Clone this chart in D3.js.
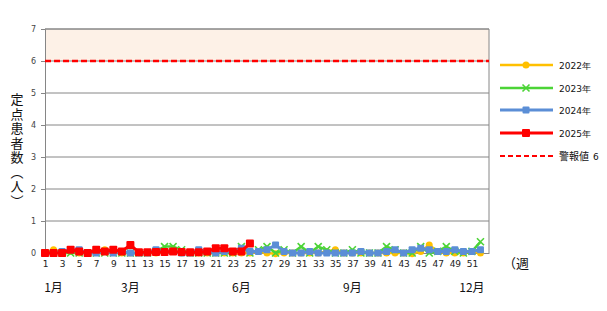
<!DOCTYPE html>
<html><head><meta charset="utf-8">
<script src="https://cdn.jsdelivr.net/npm/d3@7"></script>
<style>body{margin:0;background:#fff}svg{display:block;font-family:"Noto Sans CJK JP","DejaVu Sans",sans-serif}</style>
</head><body><svg id="c" width="607" height="311"></svg>
<script>
const weeks = d3.range(1, 53);
const yTicks = [0,1,2,3,4,5,6,7];
const xTickLabels = d3.range(1, 52, 2);
const months = [{label:"1月", week:2}, {label:"3月", week:11}, {label:"6月", week:24}, {label:"9月", week:37}, {label:"12月", week:51}];
const alertValue = 6;
const v2022 = [0,0.1,0,0.05,0,0,0.05,0.1,0.05,0,0,0,0,0,0.05,0.05,0,0,0,0,0,0,0,0,0,0.05,0,-0.02,0,0,0,0,0,0.05,0.1,0,0,0,0,0,0,0,0,-0.02,0.05,0.25,0.05,0,0,0,0.05,0];
const v2023 = [0,0,0,0,0,0,0,0,0,0,0,0,0,0.05,0.2,0.2,0.1,0,0,0,0,0,0,0.2,0,0.1,0.2,0,0.1,0,0.2,0,0.2,0.1,0,0,0.1,0,0,0,0.2,0.1,0,0,0.2,0,0.05,0.2,0.05,0,0.05,0.35];
const v2024 = [0,0,0.05,0.1,0.1,0,0,0.05,0,0.05,0,0,0,0.1,0.05,0.05,0,0,0.1,0.05,0,0.05,0.05,0.15,0.05,0.05,0.1,0.25,0.05,0,0,0.05,0,0,0,0,0,0.05,0,0,0.05,0.1,0,0.1,0.15,0.1,0.05,0.05,0.1,0.05,0.05,0.1];
const v2025 = [0,0,0,0.1,0.05,0,0.1,0.05,0.1,0.05,0.25,0.02,0.02,0.03,0.03,0.05,0.03,0.02,0.02,0.05,0.15,0.15,0.05,0.05,0.3];
const seriesNames = ["2022年","2023年","2024年","2025年"];
const yTitle = "定点患者数（人）";

const svg = d3.select("#c");
const x = d3.scaleLinear().domain([1,53]).range([45,489]);
const y = d3.scaleLinear().domain([0,7]).range([253,29]);

svg.append("rect").attr("x",x(1)).attr("y",y(7)).attr("width",x(53)-x(1)).attr("height",y(6)-y(7)).attr("fill","#fdf1e7");
svg.append("g").selectAll("line").data(yTicks.filter(d=>d>0)).join("line")
  .attr("x1",x(1)).attr("x2",x(53)).attr("y1",d=>y(d)).attr("y2",d=>y(d)).attr("stroke","#868686").attr("stroke-width",1);
const ya = svg.append("g").attr("transform",`translate(${x(1)},0)`).call(d3.axisLeft(y).tickValues(yTicks).tickSize(4).tickPadding(5).tickFormat(d3.format("d")));
ya.select(".domain").attr("stroke","#868686");
ya.selectAll(".tick line").attr("stroke","#868686");
ya.selectAll("text").attr("font-size",8).attr("fill","#444").attr("font-family","DejaVu Sans");
const xa = svg.append("g").attr("transform",`translate(0,${y(0)})`).call(d3.axisBottom(x).tickValues(xTickLabels).tickSize(0).tickPadding(8).tickFormat(d3.format("d")));
xa.select(".domain").attr("stroke","#868686");
xa.selectAll("text").attr("font-size",9).attr("fill","#222").attr("font-family","DejaVu Sans");
svg.append("line").attr("x1",x(53)).attr("x2",x(53)).attr("y1",y(7)).attr("y2",y(0)).attr("stroke","#868686");
svg.append("line").attr("x1",x(1)).attr("x2",x(53)).attr("y1",y(7)).attr("y2",y(7)).attr("stroke","#868686");

svg.append("line").attr("x1",x(1)).attr("x2",x(53)).attr("y1",y(alertValue)).attr("y2",y(alertValue))
  .attr("stroke","#ff0000").attr("stroke-width",2.5).attr("stroke-dasharray","6,3");

const line = d3.line().x((d,i)=>x(i+1)).y(d=>y(d));
const cfg = [
  {data:v2022,color:"#ffc000",marker:"circle",size:3.5,w:2.5},
  {data:v2023,color:"#4cd437",marker:"x",size:3.5,w:2.5},
  {data:v2024,color:"#5b8ed6",marker:"square",size:3.5,w:3},
  {data:v2025,color:"#ff0000",marker:"square",size:4,w:3}
];
function drawMarker(g, m, cx, cy, c) {
  if (m.marker==="circle") g.append("circle").attr("cx",cx).attr("cy",cy).attr("r",m.size).attr("fill",c);
  else if (m.marker==="square") g.append("rect").attr("x",cx-m.size).attr("y",cy-m.size).attr("width",m.size*2).attr("height",m.size*2).attr("rx",1).attr("fill",c);
  else { const s=m.size; g.append("path").attr("d",`M${cx-s},${cy-s}L${cx+s},${cy+s}M${cx-s},${cy+s}L${cx+s},${cy-s}`).attr("stroke",c).attr("stroke-width",1.6); }
}
cfg.forEach(m=>{
  const g = svg.append("g");
  g.append("path").attr("d",line(m.data)).attr("fill","none").attr("stroke",m.color).attr("stroke-width",m.w).attr("stroke-linejoin","round");
  m.data.forEach((d,i)=>drawMarker(g,m,x(i+1),y(d),m.color));
});

const lg = svg.append("g");
const ly = [65,88,110,133];
cfg.forEach((m,i)=>{
  lg.append("line").attr("x1",500).attr("x2",553).attr("y1",ly[i]).attr("y2",ly[i]).attr("stroke",m.color).attr("stroke-width",m.w);
  drawMarker(lg,m,526,ly[i],m.color);
  lg.append("text").attr("x",559).attr("y",ly[i]+3.5).attr("font-size",9).attr("fill","#111").attr("font-family","DejaVu Sans").text(seriesNames[i]);
});
lg.append("line").attr("x1",500).attr("x2",553).attr("y1",156).attr("y2",156).attr("stroke","#ff0000").attr("stroke-width",2.2).attr("stroke-dasharray","5,3");
lg.append("text").attr("x",559).attr("y",160).attr("font-size",10).attr("fill","#111").text("警報値");
lg.append("text").attr("x",593).attr("y",160).attr("font-size",9).attr("fill","#111").attr("font-family","DejaVu Sans").text("6");

svg.append("g").selectAll("text").data(months).join("text")
  .attr("x",d=>x(d.week)).attr("y",292).attr("text-anchor","middle").attr("font-size",12).attr("fill","#111").text(d=>d.label);
svg.append("text").attr("x",503).attr("y",268).attr("font-size",13).attr("fill","#111").text("（週");

svg.append("text").attr("x",17).attr("y",93).attr("font-size",13).attr("fill","#111")
  .style("writing-mode","vertical-rl").style("letter-spacing","1.5px").text(yTitle);
</script></body></html>
